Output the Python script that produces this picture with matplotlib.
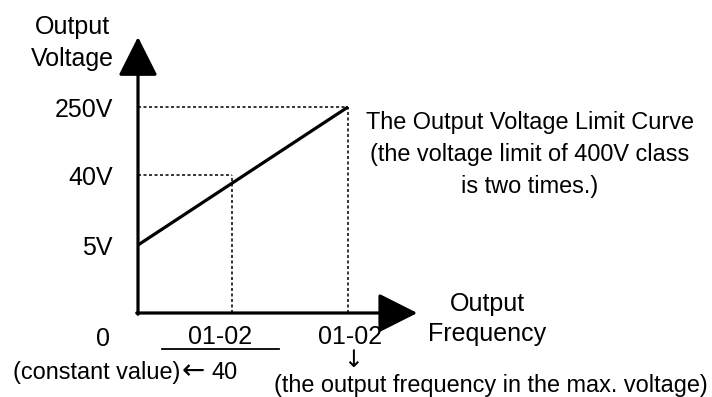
import matplotlib.pyplot as plt

plt.rcParams['font.family'] = ['Liberation Sans', 'DejaVu Sans']

# schematic V/f curve (x: frequency relative to 01-02 max, y: voltage level)
volt_labels = ["5V", "40V", "250V"]
volt_levels = [0.33, 0.67, 1.0]
freq_points = [0.448, 1.0]
curve_x = [0.0, 1.0]
curve_y = [0.33, 1.0]
x_axis_end = 1.33
y_axis_end = 1.34

fig = plt.figure(figsize=(7.12, 3.97), dpi=100)
ax = fig.add_axes([0, 0, 1, 1])
ax.set_xlim(-138 / 210, (712 - 138) / 210)
ax.set_ylim(-84 / 206, 313 / 206)
ax.axis('off')

fs = 18       # axis labels
fs_note = 16.9  # longer notes

arrow = dict(arrowstyle='-|>,head_length=1.35,head_width=0.68', lw=2.3,
             color='black', shrinkA=0, shrinkB=0, mutation_scale=fs)

# axes with arrow heads
ax.annotate('', xy=(x_axis_end, 0), xytext=(-0.006, 0), arrowprops=arrow)
ax.annotate('', xy=(0, y_axis_end), xytext=(0, -0.006), arrowprops=arrow)

# dotted guides: 40V -> first 01-02, 250V -> max 01-02
dots = dict(color='black', lw=1.1, linestyle=(0, (2, 1.6)))
for f, v in [(freq_points[0], volt_levels[1]), (freq_points[1], volt_levels[2])]:
    ax.plot([0, f], [v, v], **dots)
    ax.plot([f, f], [0, v], **dots)

# the output voltage limit curve
ax.plot(curve_x, curve_y, color='black', lw=2.3, solid_capstyle='butt')

# voltage tick labels
for lab, v in zip(volt_labels, volt_levels):
    ax.text(-0.119, v - 0.048, lab, ha='right', va='baseline', fontsize=fs)

# axis titles, one line at a time
ax.text(-0.314, 1.354, "Output", ha='center', va='baseline', fontsize=fs)
ax.text(-0.314, 1.199, "Voltage", ha='center', va='baseline', fontsize=fs)
ax.text(1.662, 0.010, "Output", ha='center', va='baseline', fontsize=fs)
ax.text(1.662, -0.136, "Frequency", ha='center', va='baseline', fontsize=fs)

# frequency labels
ax.text(-0.167, -0.160, "0", ha='center', va='baseline', fontsize=fs)
ax.text(0.390, -0.150, "01-02", ha='center', va='baseline', fontsize=fs)
ax.plot([0.114, 0.671], [-0.175, -0.175], color='black', lw=1.3)
ax.text(-0.595, -0.320, "(constant value)", ha='left', va='baseline',
        fontsize=fs_note)
ax.text(0.262, -0.283, "\u2190", ha='center', va='center',
        fontsize=20, family='DejaVu Sans')
ax.text(0.352, -0.320, "40", ha='left', va='baseline', fontsize=fs_note)

ax.text(1.010, -0.150, "01-02", ha='center', va='baseline', fontsize=fs)
ax.text(1.024, -0.230, "\u2193", ha='center', va='center',
        fontsize=17, family='DejaVu Sans')
ax.text(2.714, -0.385, "(the output frequency in the max. voltage)",
        ha='right', va='baseline', fontsize=fs_note)

# note next to the curve
note = ["The Output Voltage Limit Curve",
        "(the voltage limit of 400V class",
        "is two times.)"]
for line, y in zip(note, [0.893, 0.738, 0.583]):
    ax.text(1.867, y, line, ha='center', va='baseline', fontsize=fs_note)

fig.savefig('out.png', dpi=100)
